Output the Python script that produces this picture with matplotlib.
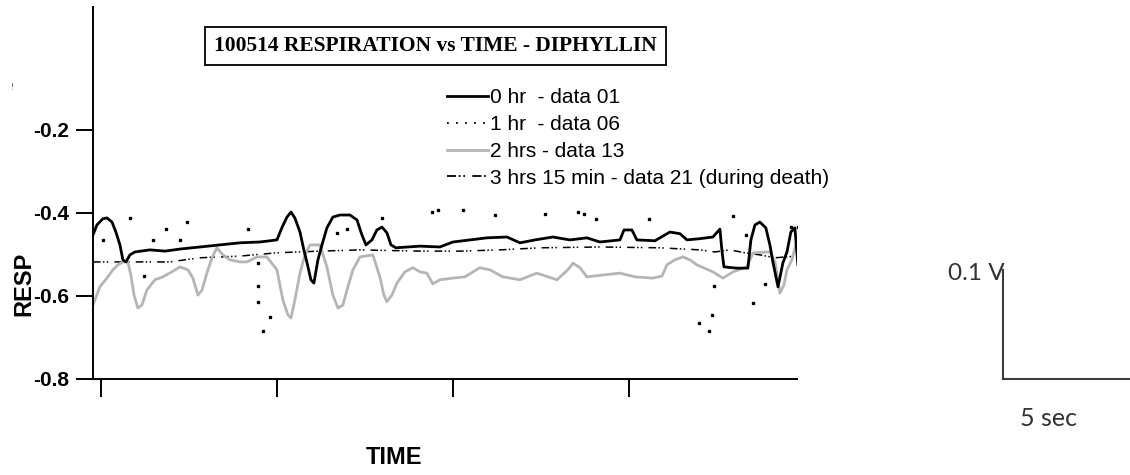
import numpy as np
import matplotlib.pyplot as plt
from matplotlib.lines import Line2D

# respiration traces, time in arbitrary units, resp in volts
t_0hr = [-0.45, -0.23, 0.11, 0.34, 0.63, 0.85, 1.08, 1.25, 1.42, 1.65, 1.93, 2.78, 3.64, 4.49,
         5.63, 6.76, 7.90, 9.03, 10.0, 10.28, 10.57, 10.80, 11.02, 11.31, 11.53, 11.70, 11.93,
         12.10, 12.33, 12.56, 12.84, 13.18, 13.58, 14.15, 14.55, 14.83, 15.06, 15.40, 15.68,
         15.97, 16.25, 16.48, 16.76, 18.13, 19.26, 20.0, 20.97, 21.93, 23.07, 23.81, 24.66,
         25.68, 26.65, 27.61, 28.35, 29.49, 29.72, 30.17, 30.45, 31.48, 32.33, 32.90, 33.30,
         34.03, 34.77, 35.17, 35.28, 35.40, 36.14, 36.76, 36.93, 37.16, 37.44, 37.78, 38.01,
         38.18, 38.47, 38.75, 38.98, 39.20, 39.43, 39.60]
resp_0hr = [-0.453, -0.429, -0.414, -0.412, -0.422, -0.446, -0.477, -0.513, -0.518, -0.501,
            -0.494, -0.489, -0.492, -0.487, -0.482, -0.477, -0.472, -0.470, -0.465, -0.436,
            -0.410, -0.398, -0.412, -0.446, -0.489, -0.518, -0.561, -0.569, -0.513, -0.477,
            -0.436, -0.410, -0.405, -0.405, -0.417, -0.453, -0.477, -0.465, -0.441, -0.434,
            -0.448, -0.477, -0.484, -0.480, -0.482, -0.470, -0.465, -0.460, -0.458, -0.472,
            -0.465, -0.458, -0.465, -0.460, -0.470, -0.465, -0.441, -0.441, -0.465, -0.467,
            -0.446, -0.450, -0.465, -0.462, -0.458, -0.439, -0.489, -0.530, -0.533, -0.533,
            -0.465, -0.429, -0.422, -0.436, -0.477, -0.518, -0.578, -0.520, -0.494, -0.446,
            -0.436, -0.525]

# 1 hr trace only survives as scattered dots
t_1hr = [0.11, 1.65, 2.44, 2.95, 3.69, 4.49, 4.89, 8.35, 8.92, 8.92, 8.92, 9.60, 9.20, 13.41,
         13.98, 15.97, 18.81, 19.15, 20.57, 22.39, 25.23, 27.10, 27.44, 28.13, 31.14, 33.98,
         34.55, 34.72, 34.83, 35.91, 36.65, 37.05, 37.73, 39.20, 39.60]
resp_1hr = [-0.465, -0.412, -0.552, -0.465, -0.439, -0.465, -0.422, -0.439, -0.520, -0.576,
            -0.614, -0.651, -0.684, -0.448, -0.439, -0.412, -0.398, -0.393, -0.393, -0.405,
            -0.402, -0.398, -0.402, -0.414, -0.414, -0.665, -0.684, -0.646, -0.576, -0.407,
            -0.453, -0.617, -0.571, -0.434, -0.434]

t_2hr = [-0.45, -0.06, 0.34, 0.68, 0.97, 1.25, 1.53, 1.70, 1.88, 2.10, 2.33, 2.61, 3.07, 3.52,
         4.03, 4.49, 4.94, 5.23, 5.51, 5.74, 6.02, 6.31, 6.59, 6.93, 7.33, 7.90, 8.30, 8.86,
         9.43, 10.0, 10.34, 10.63, 10.80, 11.02, 11.31, 11.59, 11.88, 12.44, 12.84, 13.18,
         13.47, 13.75, 13.98, 14.32, 14.72, 15.45, 15.85, 16.08, 16.25, 16.53, 16.82, 17.27,
         17.73, 18.13, 18.52, 18.86, 19.26, 20.0, 20.68, 21.53, 22.10, 22.84, 23.81, 24.77,
         25.91, 26.53, 26.82, 27.22, 27.61, 28.64, 29.49, 30.34, 31.36, 31.88, 32.16, 32.61,
         33.07, 33.47, 33.86, 34.77, 35.34, 35.91, 36.70, 37.05, 38.01, 38.30, 38.58, 38.81,
         38.98, 39.26, 39.55]
resp_2hr = [-0.622, -0.578, -0.557, -0.537, -0.525, -0.518, -0.518, -0.549, -0.598, -0.629,
            -0.622, -0.586, -0.561, -0.554, -0.542, -0.530, -0.537, -0.557, -0.598, -0.586,
            -0.545, -0.508, -0.484, -0.501, -0.513, -0.518, -0.518, -0.506, -0.506, -0.537,
            -0.610, -0.646, -0.653, -0.610, -0.545, -0.501, -0.477, -0.477, -0.530, -0.598,
            -0.629, -0.622, -0.586, -0.537, -0.506, -0.501, -0.554, -0.598, -0.614, -0.598,
            -0.569, -0.542, -0.532, -0.542, -0.545, -0.571, -0.561, -0.557, -0.554, -0.532,
            -0.537, -0.554, -0.561, -0.545, -0.561, -0.537, -0.521, -0.532, -0.554, -0.549,
            -0.545, -0.554, -0.557, -0.552, -0.525, -0.513, -0.506, -0.513, -0.525, -0.542,
            -0.557, -0.542, -0.530, -0.496, -0.494, -0.518, -0.593, -0.573, -0.537, -0.513,
            -0.465]

t_3hr = [-0.45, 1.65, 3.92, 5.63, 7.90, 10.0, 12.44, 14.72, 18.13, 20.40, 22.67, 24.94, 28.35,
         31.76, 34.03, 34.89, 35.74, 36.59, 37.44, 38.30, 39.55]
resp_3hr = [-0.518, -0.518, -0.518, -0.508, -0.504, -0.496, -0.492, -0.489, -0.492, -0.492,
            -0.489, -0.484, -0.482, -0.484, -0.489, -0.494, -0.489, -0.496, -0.501, -0.508,
            -0.504]

labels = ["0 hr  - data 01", "1 hr  - data 06", "2 hrs - data 13",
          "3 hrs 15 min - data 21 (during death)"]
y_ticks = [-0.2, -0.4, -0.6, -0.8]
x_ticks = [0, 10, 20, 30]

W, H = 1130, 475
sans = ["Liberation Sans", "DejaVu Sans"]

fig = plt.figure(figsize=(W / 100, H / 100), dpi=100)
ax = fig.add_axes([93 / W, 1 - 379 / H, 704 / W, 372 / H])

dash3 = (0, (5, 1.5, 1, 1.5, 1, 4))
ax.plot(t_3hr, resp_3hr, color="black", lw=1.1, ls=dash3)
ax.plot(t_2hr, resp_2hr, color="#b5b5b5", lw=2.0)
ax.plot(t_0hr, resp_0hr, color="black", lw=2.0)
ax.plot(t_1hr, resp_1hr, ls="none", marker="s", ms=1.8, color="black")

ax.set_xlim(-0.45, 39.55)
ax.set_ylim(-0.8, 0.096)
for s in ["top", "right"]:
    ax.spines[s].set_visible(False)
for s in ["left", "bottom"]:
    ax.spines[s].set_linewidth(1.4)

ax.set_xticks(x_ticks)
ax.set_xticklabels([])
ax.set_yticks(y_ticks)
ax.set_yticklabels(["%.1f" % v for v in y_ticks], family=sans, fontweight="heavy",
                   fontsize=15)
ax.tick_params(axis="y", direction="out", length=12, width=1.4, pad=5)
ax.tick_params(axis="x", direction="out", length=13, width=1.4)

# axis titles
fig.text(24 / W, 1 - 284 / H, "RESP", family=sans, fontweight="heavy", fontsize=17,
         rotation=90, ha="center", va="center")
fig.text(394 / W, 1 - 457 / H, "TIME", family=sans, fontweight="heavy", fontsize=17,
         ha="center", va="center")

fig.text(435.5 / W, 1 - 46 / H, "100514 RESPIRATION vs TIME - DIPHYLLIN",
         family="Liberation Serif", fontweight="bold", fontsize=15.5,
         ha="center", va="center",
         bbox=dict(boxstyle="square,pad=0.42", fc="white", ec="black", lw=1.3))

handles = [Line2D([], [], color="black", lw=2.0),
           Line2D([], [], color="black", lw=1.3, ls=(0, (1, 4))),
           Line2D([], [], color="#b5b5b5", lw=2.0),
           Line2D([], [], color="black", lw=1.3, ls=dash3)]
ax.legend(handles, labels, loc="upper left", bbox_to_anchor=(447 / W, 1 - 88 / H),
          bbox_transform=fig.transFigure, frameon=False, borderpad=0, borderaxespad=0,
          handlelength=1.95, handletextpad=0.1, labelspacing=0.38,
          prop=dict(family=sans, size=15))

# scale bar
sb = fig.add_axes([1003 / W, 1 - 379 / H, 127 / W, 109 / H])
sb.set_xticks([])
sb.set_yticks([])
for s in ["top", "right"]:
    sb.spines[s].set_visible(False)
for s in ["left", "bottom"]:
    sb.spines[s].set_linewidth(1.5)
    sb.spines[s].set_color("#3c3c3c")
sb.patch.set_alpha(0)
fig.text(1005 / W, 1 - 274 / H, "0.1 V", family="Lato", fontsize=17.5, color="#333333",
         ha="right", va="center")
fig.text(1049 / W, 1 - 418 / H, "5 sec", family="Lato", fontsize=18, color="#333333",
         ha="center", va="center")
fig.text(12 / W, 1 - 88 / H, "!", fontsize=6, color="#555555", ha="center", va="center")

fig.savefig("out.png", dpi=100)
